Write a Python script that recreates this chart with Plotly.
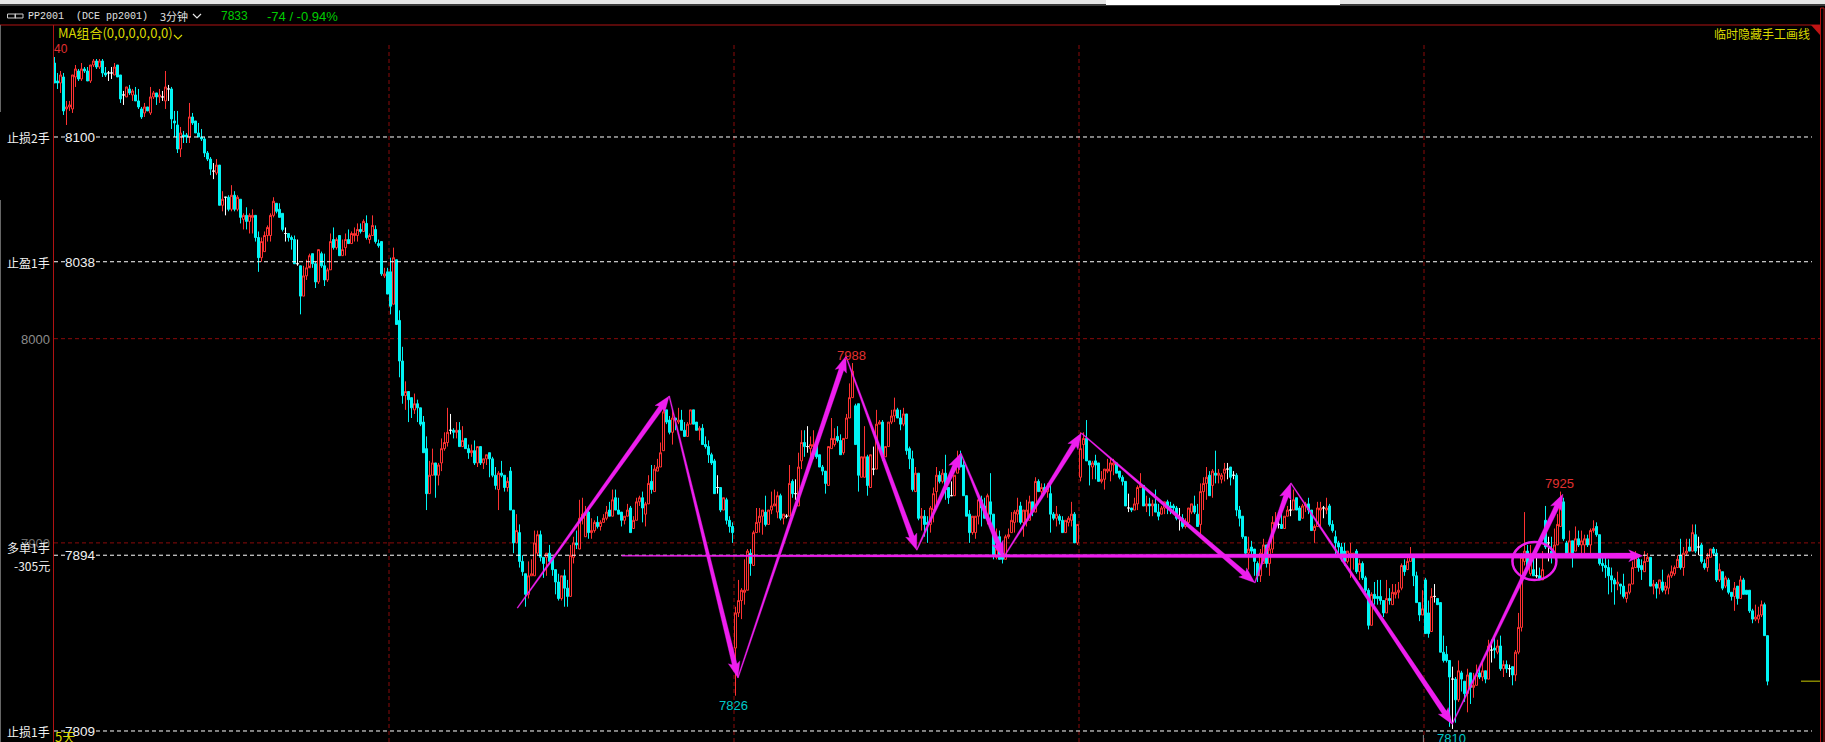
import math
import plotly.graph_objects as go

# Candles, each row is (open, close, high, low) in price units.
run_a = [(8137,8127,8140,8127),(8128,8127,8132,8124),(8127,8131,8133,8122),(8130,8113,8132,8111),(8114,8115,8118,8106),(8115,8116,8118,8113),(8114,8131,8131,8112),(8130,8134,8136,8125),(8133,8129,8134,8128),(8129,8134,8137,8128),
(8134,8133,8135,8132),(8133,8128,8135,8128),(8128,8136,8136,8127),(8136,8138,8139,8135),(8138,8135,8139,8134),(8135,8138,8139,8134),(8138,8132,8139,8130),(8132,8131,8135,8130),(8132,8132,8133,8128),(8132,8132,8135,8129),
(8131,8135,8137,8131),(8136,8130,8136,8130),(8131,8119,8131,8117),(8121,8121,8123,8116),(8120,8125,8125,8120),(8124,8122,8126,8121),(8121,8123,8124,8118),(8121,8118,8125,8118),(8118,8115,8124,8114),(8114,8110,8115,8109),
(8112,8115,8117,8110),(8115,8113,8115,8113),(8112,8120,8125,8111),(8120,8122,8123,8119),(8122,8120,8122,8116),(8120,8121,8124,8117),(8120,8120,8123,8118),(8118,8125,8133,8114),(8124,8124,8126,8118),(8124,8109,8125,8104),
(8108,8107,8113,8100),(8106,8094,8113,8092),(8094,8102,8105,8090),(8101,8100,8103,8097),(8101,8100,8102,8097),(8100,8110,8117,8097),(8110,8107,8112,8106),(8108,8102,8108,8102),(8102,8100,8107,8100),(8100,8099,8104,8098),
(8099,8092,8100,8090),(8092,8089,8093,8088),(8089,8084,8090,8081),(8083,8083,8087,8079),(8082,8086,8089,8081),(8086,8066,8086,8066),(8066,8069,8073,8063),(8070,8070,8070,8061),(8070,8064,8071,8063),(8064,8071,8076,8063),
(8071,8064,8073,8063),(8064,8070,8071,8063),(8069,8060,8069,8057),(8059,8061,8062,8054),(8061,8058,8065,8054),(8058,8061,8062,8052),(8060,8061,8064,8052),(8061,8050,8061,8048),(8050,8040,8053,8033),(8040,8048,8050,8038),
(8043,8051,8053,8043),(8051,8055,8056,8048),(8051,8061,8062,8048),(8061,8068,8070,8060),(8067,8063,8067,8062),(8064,8060,8067,8060),(8062,8054,8062,8053),(8052,8052,8055,8048),(8052,8050,8052,8048),(8050,8049,8051,8044),
(8049,8037,8051,8037),(8037,8037,8049,8036),(8036,8021,8036,8012),(8021,8031,8036,8021),(8031,8035,8039,8029),(8035,8041,8042,8036),(8042,8037,8042,8035),(8037,8028,8038,8025),(8028,8044,8044,8027),(8042,8036,8043,8035),
(8036,8029,8042,8026),(8029,8034,8035,8028),(8034,8048,8052,8034),(8049,8045,8055,8044),(8045,8049,8050,8044),(8051,8041,8051,8041)]

run_b = [(8041,8044,8049,8041),(8045,8049,8052,8041),(8049,8047,8054,8047),(8047,8052,8053,8047),(8051,8052,8055,8048),(8051,8054,8057,8048),(8054,8053,8057,8052),(8053,8058,8059,8053),(8057,8050,8061,8049),(8049,8051,8052,8047),
(8051,8056,8061,8051),(8054,8048,8056,8047),(8047,8046,8049,8045),(8048,8032,8048,8031),(8031,8032,8035,8030),(8033,8022,8035,8022),(8033,8016,8040,8012),(8017,8040,8045,8017),(8039,8007,8039,8007),(8009,7989,8014,7981),
(7989,7972,7996,7968),(7972,7974,7979,7965),(7974,7970,7974,7959),(7971,7966,7971,7961),(7965,7968,7973,7963),(7968,7966,7970,7959),(7966,7958,7966,7957),(7959,7944,7962,7944),(7946,7924,7952,7916),(7924,7933,7940,7924),
(7933,7939,7946,7933),(7939,7933,7939,7922),(7933,7938,7939,7928),(7939,7946,7951,7935),(7946,7949,7954,7945),(7949,7954,7966,7947),(7955,7955,7963,7953),(7955,7954,7956,7951),(7954,7955,7959,7951),(7955,7947,7959,7947),
(7947,7950,7957,7947),(7951,7946,7951,7946),(7946,7944,7948,7941),(7944,7945,7948,7942),(7945,7939,7950,7938),(7939,7947,7947,7937),(7947,7939,7947,7938),(7939,7941,7941,7936),(7941,7943,7943,7938),(7944,7941,7944,7932),
(7941,7933,7942,7932),(7933,7928,7937,7926),(7926,7934,7935,7916),(7934,7933,7940,7932),(7933,7927,7933,7925),(7927,7930,7932,7925),(7935,7916,7937,7916),(7916,7900,7916,7895),(7900,7906,7914,7900),(7905,7891,7909,7888),
(7891,7886,7894,7884),(7885,7875,7885,7869),(7875,7884,7891,7873),(7884,7885,7892,7884),(7884,7900,7906,7884),(7895,7904,7906,7894),(7904,7893,7906,7891),(7893,7890,7893,7883),(7893,7895,7895,7884),(7895,7891,7899,7890),
(7893,7887,7893,7884),(7887,7881,7887,7875),(7881,7873,7885,7872),(7873,7884,7884,7872),(7884,7878,7887,7869),(7878,7874,7882,7869),(7874,7894,7899,7874),(7893,7900,7903,7890),(7900,7899,7906,7897),(7897,7912,7921,7897),
(7912,7914,7922,7909),(7903,7914,7918,7903),(7915,7905,7916,7902),(7905,7906,7912,7902),(7906,7910,7911,7905),(7910,7908,7913,7907),(7908,7910,7911,7906),(7910,7912,7914,7910),(7912,7915,7918,7911),(7916,7913,7920,7913),
(7913,7921,7926,7913),(7922,7916,7926,7916),(7916,7914,7922,7914),(7915,7911,7915,7908),(7911,7913,7913,7909),(7913,7916,7919,7913),(7917,7905,7918,7905)]

run_c = [(7907,7911,7913,7907),(7911,7920,7922,7911),(7920,7922,7923,7918),(7922,7917,7925,7910),(7914,7919,7920,7908),(7919,7929,7933,7919),(7930,7926,7938,7924),(7925,7936,7938,7925),(7935,7937,7941,7935),(7937,7944,7949,7937),
(7945,7964,7967,7945),(7965,7959,7965,7958),(7960,7954,7962,7953),(7954,7961,7965,7948),(7961,7960,7961,7955),(7959,7960,7966,7958),(7960,7955,7965,7955),(7955,7952,7959,7952),(7952,7958,7959,7952),(7958,7965,7965,7958),
(7965,7958,7965,7958),(7959,7955,7959,7955),(7955,7956,7957,7950),(7956,7948,7958,7948),(7948,7947,7952,7946),(7947,7943,7950,7939),(7943,7939,7944,7938),(7940,7924,7941,7924),(7927,7927,7933,7924),(7927,7916,7927,7915),
(7916,7922,7922,7916),(7921,7911,7922,7909),(7911,7908,7913,7905),(7908,7905,7910,7900),(7849,7866,7869,7826),(7866,7872,7882,7864),(7872,7877,7878,7863),(7876,7877,7892,7870),(7877,7896,7897,7877),(7895,7890,7897,7884),
(7889,7905,7906,7889),(7905,7910,7917,7905),(7910,7913,7917,7905),(7913,7916,7916,7904),(7915,7909,7923,7908),(7909,7916,7916,7909),(7916,7918,7925,7914),(7918,7919,7926,7918),(7915,7923,7925,7912),(7923,7912,7924,7911),
(7912,7914,7914,7909),(7913,7913,7914,7912),(7913,7929,7938,7913),(7930,7924,7931,7922),(7924,7924,7931,7921),(7918,7937,7944,7918),(7940,7949,7955,7936),(7949,7947,7955,7942),(7947,7947,7957,7944),(7946,7948,7952,7941),
(7947,7948,7955,7941),(7948,7942,7948,7941),(7943,7937,7943,7937),(7937,7935,7938,7933),(7935,7929,7935,7924),(7928,7947,7947,7928),(7946,7951,7961,7946),(7948,7951,7956,7947),(7952,7950,7957,7949),(7950,7943,7953,7943),
(7944,7951,7951,7943),(7951,7961,7963,7951),(7961,7971,7978,7961),(7971,7984,7988,7971),(7967,7948,7968,7948),(7968,7933,7968,7925),(7932,7942,7942,7932),(7932,7942,7957,7932),(7942,7928,7943,7923),(7927,7943,7943,7927),
(7936,7936,7947,7933),(7936,7958,7965,7936),(7958,7959,7960,7958),(7959,7942,7960,7940),(7942,7947,7947,7942),(7947,7959,7959,7947),(7959,7962,7965,7958),(7962,7965,7971,7959),(7965,7961,7966,7961),(7961,7958,7965,7955),
(7958,7963,7966,7957),(7963,7945,7963,7943),(7946,7941,7947,7936),(7941,7926,7945,7925),(7925,7934,7937,7925),(7934,7912,7934,7911)]

run_d = [(7912,7913,7917,7906),(7913,7909,7916,7903),(7910,7909,7913,7900),(7909,7917,7918,7905),(7916,7924,7927,7910),(7925,7933,7937,7918),(7933,7930,7935,7929),(7930,7934,7936,7929),(7934,7926,7943,7921),(7927,7922,7927,7919),
(7923,7923,7930,7923),(7923,7933,7933,7923),(7934,7939,7945,7934),(7943,7937,7945,7937),(7938,7923,7940,7923),(7923,7913,7923,7913),(7914,7905,7916,7900),(7905,7913,7913,7904),(7905,7913,7913,7902),(7913,7921,7924,7909),
(7921,7917,7923,7908),(7918,7912,7922,7912),(7912,7923,7924,7909),(7920,7914,7934,7909),(7914,7894,7914,7892),(7893,7897,7907,7892),(7903,7892,7906,7892),(7895,7892,7898,7890),(7892,7903,7904,7892),(7903,7904,7907,7902),
(7905,7911,7915,7905),(7910,7915,7916,7905),(7914,7916,7922,7910),(7918,7910,7920,7909),(7910,7916,7916,7903),(7911,7916,7921,7908),(7911,7920,7923,7911),(7920,7915,7920,7913),(7915,7930,7932,7915),(7930,7925,7931,7925),
(7925,7927,7929,7922),(7927,7925,7929,7924),(7925,7927,7929,7922),(7924,7914,7929,7905),(7914,7912,7915,7911),(7912,7914,7918,7908),(7913,7911,7914,7909),(7911,7905,7913,7905),(7905,7911,7911,7905),(7910,7912,7913,7908),
(7911,7914,7920,7908),(7914,7900,7915,7900),(7900,7909,7909,7899),(7932,7946,7954,7930),(7948,7951,7954,7941),(7951,7940,7960,7940),(7940,7938,7940,7928),(7937,7939,7940,7931),(7940,7938,7943,7931),(7939,7930,7939,7930),
(7930,7931,7935,7929),(7931,7936,7936,7926),(7935,7936,7941,7934),(7935,7939,7941,7930),(7938,7939,7941,7933),(7939,7934,7939,7934),(7935,7932,7935,7931),(7932,7930,7933,7928),(7930,7918,7930,7918),(7917,7917,7924,7915),
(7917,7916,7917,7915),(7916,7919,7922,7916),(7919,7927,7928,7916),(7927,7928,7934,7927),(7928,7918,7928,7918),(7918,7919,7923,7915),(7919,7918,7922,7913),(7918,7919,7921,7913),(7919,7915,7926,7915),(7915,7913,7919,7911),
(7914,7917,7918,7914),(7917,7920,7920,7914),(7920,7918,7921,7914),(7918,7917,7920,7914),(7918,7917,7919,7915),(7917,7912,7918,7911),(7912,7912,7917,7906),(7912,7908,7914,7907),(7908,7910,7912,7907),(7910,7917,7917,7908),
(7915,7919,7919,7914),(7918,7915,7923,7914),(7914,7908,7919,7908),(7909,7925,7929,7904),(7925,7929,7932,7916),(7929,7932,7937,7921),(7933,7923,7935,7923)]

run_e = [(7928,7935,7936,7922),(7934,7933,7945,7929),(7933,7934,7936,7929),(7931,7933,7934,7929),(7934,7936,7939,7930),(7936,7936,7939,7931),(7937,7932,7937,7928),(7933,7933,7935,7931),(7933,7916,7934,7913),(7916,7912,7918,7908),
(7913,7903,7913,7902),(7903,7895,7903,7894),(7895,7897,7903,7887),(7898,7896,7901,7894),(7897,7891,7897,7884),(7890,7884,7891,7881),(7884,7895,7897,7881),(7890,7899,7902,7890),(7899,7890,7899,7888),(7890,7897,7900,7884),
(7897,7910,7913,7895),(7909,7910,7915,7907),(7909,7909,7915,7907),(7909,7907,7915,7907),(7907,7913,7913,7907),(7913,7916,7918,7913),(7916,7916,7921,7913),(7916,7921,7926,7916),(7922,7916,7922,7916),(7917,7911,7918,7911),
(7912,7918,7919,7912),(7918,7919,7920,7915),(7919,7916,7922,7914),(7916,7906,7916,7906),(7906,7908,7909,7900),(7908,7917,7920,7908),(7916,7917,7920,7908),(7917,7917,7918,7912),(7916,7917,7922,7914),(7918,7909,7919,7908),
(7909,7906,7911,7905),(7903,7900,7906,7894),(7900,7898,7901,7894),(7898,7894,7900,7891),(7896,7891,7900,7889),(7891,7896,7896,7890),(7894,7895,7900,7883),(7893,7895,7895,7887),(7896,7886,7897,7885),(7886,7890,7892,7882),
(7890,7883,7891,7882),(7883,7877,7884,7876),(7877,7860,7878,7858),(7860,7875,7876,7860),(7875,7873,7881,7870),(7874,7873,7882,7870),(7874,7872,7882,7870),(7872,7866,7872,7864),(7866,7873,7882,7866),(7873,7872,7878,7870),
(7870,7876,7880,7870),(7875,7876,7880,7873),(7876,7877,7881,7873),(7878,7889,7890,7877),(7889,7886,7892,7884),(7887,7891,7894,7887),(7891,7894,7898,7891),(7894,7884,7894,7879),(7884,7871,7886,7871),(7871,7865,7871,7862),
(7865,7868,7877,7865),(7882,7856,7883,7856),(7866,7856,7872,7854),(7857,7874,7878,7857),(7874,7874,7880,7871),(7873,7870,7873,7870),(7871,7847,7871,7847),(7847,7843,7855,7842),(7846,7843,7850,7842),(7843,7835,7843,7811),
(7834,7834,7840,7810),(7834,7824,7835,7813),(7824,7838,7843,7823),(7837,7834,7838,7828),(7833,7827,7833,7823),(7827,7836,7839,7818),(7837,7830,7837,7822),(7830,7831,7837,7825),(7831,7836,7841,7831),(7837,7835,7840,7834),
(7835,7838,7843,7833),(7838,7834,7838,7832),(7834,7850,7853,7834),(7848,7848,7853,7842),(7849,7848,7854,7844),(7847,7850,7853,7846),(7850,7839,7855,7838)]

run_f = [(7839,7841,7843,7835),(7841,7839,7843,7837),(7839,7839,7841,7835),(7840,7836,7840,7831),(7836,7847,7848,7833),(7847,7859,7866,7846),(7859,7893,7895,7857),(7891,7896,7915,7889),(7896,7888,7899,7887),(7885,7893,7899,7884),
(7887,7884,7893,7884),(7884,7884,7894,7883),(7884,7882,7888,7882),(7882,7887,7896,7882),(7911,7898,7918,7897),(7900,7900,7903,7891),(7896,7893,7903,7890),(7894,7899,7907,7894),(7899,7909,7914,7899),(7908,7920,7925,7908),
(7920,7902,7922,7901),(7900,7895,7901,7894),(7895,7901,7906,7895),(7901,7895,7901,7888),(7896,7902,7908,7896),(7902,7899,7906,7898),(7899,7901,7906,7895),(7899,7902,7904,7895),(7902,7899,7904,7898),(7899,7906,7907,7895),
(7906,7907,7911,7905),(7908,7904,7910,7903),(7904,7890,7904,7889),(7890,7889,7894,7886),(7889,7888,7893,7883),(7888,7884,7892,7875),(7884,7882,7888,7876),(7882,7880,7883,7870),(7880,7881,7886,7877),(7880,7879,7880,7875),
(7879,7874,7885,7873),(7873,7876,7876,7871),(7876,7880,7880,7875),(7880,7888,7891,7880),(7888,7893,7896,7888),(7892,7888,7893,7886),(7889,7887,7892,7882),(7886,7891,7896,7886),(7891,7893,7895,7891),(7893,7879,7893,7879),
(7879,7880,7882,7875),(7880,7878,7881,7873),(7878,7882,7882,7875),(7881,7877,7887,7876),(7877,7879,7881,7875),(7878,7884,7885,7875),(7884,7886,7889,7883),(7885,7888,7889,7884),(7888,7892,7894,7888),(7894,7888,7902,7887),
(7888,7895,7898,7884),(7895,7896,7902,7894),(7898,7896,7902,7896),(7896,7905,7909,7896),(7904,7896,7909,7895),(7898,7898,7903,7894),(7899,7891,7900,7890),(7890,7888,7892,7887),(7888,7893,7895,7886),(7893,7897,7897,7893),
(7897,7895,7898,7894),(7895,7882,7897,7881),(7882,7887,7890,7881),(7886,7878,7886,7877),(7879,7883,7884,7878),(7882,7876,7883,7875),(7876,7874,7876,7872),(7874,7878,7881,7867),(7879,7873,7879,7870),(7873,7882,7884,7873),
(7882,7875,7883,7875),(7877,7875,7877,7875),(7877,7867,7877,7866),(7867,7863,7868,7861),(7863,7864,7870,7862),(7863,7865,7869,7861),(7865,7870,7872,7864),(7870,7855,7871,7855),(7855,7833,7855,7831)]

# Level lines and day breaks
stop_levels = [8100, 8038, 7894, 7809]
grid_levels = [8000, 7900]
session_breaks = [111.5, 226.5, 341.5, 456.5]
last_price = 7833

# Hand-drawn swing arrows: way-points as candle index and price
swing_idx = [154.3, 204.9, 227.8, 263.8, 287.4, 302.1, 316.4, 342.3, 400.1, 412.1, 465.9, 502.8]
swing_px = [7868.4, 7971.8, 7834.6, 7991.4, 7896.5, 7943.8, 7893, 7953.6, 7880.6, 7929.2, 7812.3, 7923.8]
flat_idx = [189.1, 529.4]
flat_px = [7893.7, 7893.7]
ring_centre = (493.3, 7891.2)

candles = run_a + run_b + run_c + run_d + run_e + run_f

# ---- page geometry (pixels) ----
W, H = 1825, 742
L, R, T, B = 54, 1820, 26, 742
X0, DX = 54.5, 3.0
Y_LO = 3.892301
Y_HI = 3.911454
x_lo = (L - X0) / DX
x_hi = (R - X0) / DX


def px_x(i):
    return X0 + DX * i


def px_y(p):
    return T + (Y_HI - math.log10(p)) / (Y_HI - Y_LO) * (B - T)


def idx_of(x):
    return (x - X0) / DX


def price_of(y):
    return 10 ** (Y_HI - (y - T) / (B - T) * (Y_HI - Y_LO))


def fx(x):
    return (x - L) / (R - L)


def fy(y):
    return (B - y) / (B - T)


def fp(p):
    return fy(px_y(p))


up_down = [(i, c) for i, c in enumerate(candles) if c[0] != c[1]]
flat = [(i, c) for i, c in enumerate(candles) if c[0] == c[1]]

RED = "#ff3232"
CYAN = "#00f4f4"
MAG = "#ee1eee"
DARKRED = "#8a0a0a"
AXRED = "#b01212"

fig = go.Figure()
fig.add_trace(go.Candlestick(
    x=[i for i, _ in up_down],
    open=[c[0] for _, c in up_down], close=[c[1] for _, c in up_down],
    high=[c[2] for _, c in up_down], low=[c[3] for _, c in up_down],
    increasing=dict(line=dict(color=RED, width=1), fillcolor="#000000"),
    decreasing=dict(line=dict(color=CYAN, width=1), fillcolor=CYAN),
    hoverinfo="skip", showlegend=False,
))
fig.add_trace(go.Candlestick(
    x=[i for i, _ in flat],
    open=[c[0] for _, c in flat], close=[c[1] for _, c in flat],
    high=[c[2] for _, c in flat], low=[c[3] for _, c in flat],
    increasing=dict(line=dict(color="#ffffff", width=1), fillcolor="#ffffff"),
    decreasing=dict(line=dict(color="#ffffff", width=1), fillcolor="#ffffff"),
    hoverinfo="skip", showlegend=False,
))

# white stop / entry levels
for lv in stop_levels:
    fig.add_trace(go.Scatter(x=[x_lo, idx_of(1812)], y=[lv, lv], mode="lines",
                             line=dict(color="#ffffff", width=1, dash="4px,3px"),
                             hoverinfo="skip", showlegend=False))
# latest price tick
fig.add_trace(go.Scatter(x=[idx_of(1801), idx_of(1820)], y=[last_price, last_price], mode="lines",
                         line=dict(color="#c8c800", width=1), hoverinfo="skip", showlegend=False))


def tapered(i0, p0, i1, p1, tail=1.0, neck=5.0, head_w=12.0, head_l=14.0):
    x0, y0, x1, y1 = px_x(i0), px_y(p0), px_x(i1), px_y(p1)
    d = math.hypot(x1 - x0, y1 - y0)
    ux, uy = (x1 - x0) / d, (y1 - y0) / d
    nx, ny = -uy, ux
    bx, by = x1 - ux * head_l, y1 - uy * head_l
    pts = [
        (x0 + nx * tail / 2, y0 + ny * tail / 2),
        (bx + nx * neck / 2, by + ny * neck / 2),
        (bx + nx * head_w / 2 - ux * 2, by + ny * head_w / 2 - uy * 2),
        (x1, y1),
        (bx - nx * head_w / 2 - ux * 2, by - ny * head_w / 2 - uy * 2),
        (bx - nx * neck / 2, by - ny * neck / 2),
        (x0 - nx * tail / 2, y0 - ny * tail / 2),
        (x0 + nx * tail / 2, y0 + ny * tail / 2),
    ]
    return go.Scatter(x=[idx_of(a) for a, _ in pts], y=[price_of(b) for _, b in pts],
                      mode="lines", fill="toself", fillcolor=MAG,
                      line=dict(color=MAG, width=0.3), hoverinfo="skip", showlegend=False)


for k in range(len(swing_idx) - 1):
    fig.add_trace(tapered(swing_idx[k], swing_px[k], swing_idx[k + 1], swing_px[k + 1]))
fig.add_trace(tapered(flat_idx[0], flat_px[0], flat_idx[1], flat_px[1], neck=5.5, head_w=12, head_l=12))

shapes = []
for lv in grid_levels:
    shapes.append(dict(type="line", xref="paper", yref="paper", x0=0, x1=1, y0=fp(lv), y1=fp(lv),
                       layer="below", line=dict(color=DARKRED, width=1, dash="4px,3px")))
for b in session_breaks:
    shapes.append(dict(type="line", xref="x", yref="paper", x0=b, x1=b, y0=0, y1=fy(43),
                       layer="below", line=dict(color=DARKRED, width=1, dash="4px,3px")))
# frame
shapes += [
    dict(type="line", xref="paper", yref="paper", x0=fx(53.5), x1=fx(53.5), y0=0, y1=fy(25), line=dict(color=AXRED, width=1)),
    dict(type="line", xref="paper", yref="paper", x0=fx(0), x1=fx(R), y0=fy(25), y1=fy(25), line=dict(color=AXRED, width=1)),
    dict(type="line", xref="paper", yref="paper", x0=fx(1820.5), x1=fx(1820.5), y0=0, y1=fy(8), line=dict(color=AXRED, width=1)),
    dict(type="line", xref="paper", yref="paper", x0=fx(1824), x1=fx(1824), y0=0, y1=fy(8), line=dict(color=AXRED, width=1)),
    dict(type="line", xref="paper", yref="paper", x0=fx(1820.5), x1=fx(1824), y0=fy(8), y1=fy(8), line=dict(color=AXRED, width=1)),
    dict(type="path", xref="paper", yref="paper",
         path=f"M {fx(1811)} {fy(25)} L {fx(1820)} {fy(25)} L {fx(1820)} {fy(35)} Z",
         fillcolor="#c01414", line=dict(width=0)),
    # top strip
    dict(type="rect", xref="paper", yref="paper", x0=fx(0), x1=fx(W), y0=fy(0), y1=fy(4), fillcolor="#e6e6e6", line=dict(width=0)),
    dict(type="rect", xref="paper", yref="paper", x0=fx(0), x1=fx(W), y0=fy(4), y1=fy(6), fillcolor="#3a3a3a", line=dict(width=0)),
    dict(type="rect", xref="paper", yref="paper", x0=fx(1106), x1=fx(1340), y0=fy(0), y1=fy(5), fillcolor="#ffffff", line=dict(width=0)),
    # left edge
    dict(type="line", xref="paper", yref="paper", x0=fx(0.5), x1=fx(0.5), y0=fy(25), y1=fy(112), line=dict(color="#666666", width=1)),
    dict(type="line", xref="paper", yref="paper", x0=fx(0.5), x1=fx(0.5), y0=fy(200), y1=fy(742), line=dict(color="#666666", width=1)),
    # link icon
    dict(type="rect", xref="paper", yref="paper", x0=fx(7.5), x1=fx(15.5), y0=fy(14), y1=fy(18), line=dict(color="#cccccc", width=1)),
    dict(type="rect", xref="paper", yref="paper", x0=fx(15), x1=fx(23), y0=fy(14), y1=fy(18), line=dict(color="#cccccc", width=1)),
    # tick under the low label
    dict(type="line", xref="x", yref="paper", x0=456.3, x1=456.3, y0=0, y1=fy(735), line=dict(color="#888888", width=1)),
]
# ring around the entry
cx, cy = px_x(ring_centre[0]), px_y(ring_centre[1])
shapes.append(dict(type="circle", xref="paper", yref="paper",
                   x0=fx(cx - 22), x1=fx(cx + 22), y0=fy(cy + 19), y1=fy(cy - 19),
                   line=dict(color=MAG, width=2.5)))


# chevrons
def chevron(x, y, color):
    return dict(type="path", xref="paper", yref="paper",
                path=f"M {fx(x)} {fy(y)} L {fx(x + 4)} {fy(y + 4)} L {fx(x + 8)} {fy(y)}",
                line=dict(color=color, width=1.2))


shapes += [chevron(193, 14, "#e6e6e6"), chevron(174, 35, "#d8d800")]

CJK = "Noto Sans CJK SC"
SANS = "Liberation Sans"
MONO = "Liberation Mono"
notes = []


def note(text, x, y, color="#f0f0f0", size=12, font=SANS, anchor="left", bg=None):
    d = dict(text=text, xref="paper", yref="paper", x=fx(x), y=fy(y), xanchor=anchor, yanchor="middle",
             showarrow=False, font=dict(family=font, size=size, color=color), borderpad=0, borderwidth=0)
    if bg:
        d["bgcolor"] = bg
    notes.append(d)


note("PP2001", 28, 16, "#e0e0e0", 10, MONO)
note("(DCE pp2001)", 76, 16, "#e0e0e0", 10, MONO)
note("3分钟", 160, 16, "#e0e0e0", 11, CJK)
note("7833", 221, 16, "#00cc00", 12)
note("-74 / -0.94%", 267, 16, "#00cc00", 13)
note("MA组合(0,0,0,0,0,0)", 58, 33, "#d8d800", 13, CJK)
note("临时隐藏手工画线", 1810, 34, "#d8d800", 12, CJK, "right")
note("40", 54, 49.5, "#e03030", 12)
note("止损2手", 50, 137, size=12, font=CJK, anchor="right")
note("8100", 65, 137, size=13.5, bg="#000000")
note("止盈1手", 50, 262.5, size=12, font=CJK, anchor="right")
note("8038", 65, 262.5, size=13.5, bg="#000000")
note("8000", 50, 339, "#8c8c8c", 13, anchor="right")
note("7900", 50, 543, "#6c6c6c", 13, anchor="right")
note("多单1手", 50, 547, size=12, font=CJK, anchor="right")
note("7894", 65, 555.3, size=13.5, bg="#000000")
note("-305元", 50, 565, size=12, font=CJK, anchor="right")
note("止损1手", 50, 731.5, size=12, font=CJK, anchor="right")
note("7809", 65, 731, size=13.5, bg="#000000")
note("5天", 55, 736, "#d8d800", 13, CJK)
note("7988", 851, 355, "#e03030", 13, anchor="center")
note("7826", 733.5, 705, "#00c8c8", 13, anchor="center")
note("7925", 1559, 483, "#e03030", 13, anchor="center")
note("7810", 1451, 738, "#00c8c8", 13, anchor="center")

fig.update_layout(
    width=W, height=H, autosize=False,
    margin=dict(l=L, r=W - R, t=T, b=H - B, pad=0),
    paper_bgcolor="#000000", plot_bgcolor="#000000",
    boxgap=1 / 3, boxgroupgap=0,
    xaxis=dict(range=[x_lo, x_hi], visible=False, rangeslider=dict(visible=False), fixedrange=True),
    yaxis=dict(type="log", range=[Y_LO, Y_HI], visible=False, fixedrange=True),
    showlegend=False, hovermode=False, shapes=shapes, annotations=notes,
)

fig.write_html("out.html", config=dict(displayModeBar=False),
               post_script="document.body.style.margin='0';document.body.style.background='#000';document.body.style.overflow='hidden';")
